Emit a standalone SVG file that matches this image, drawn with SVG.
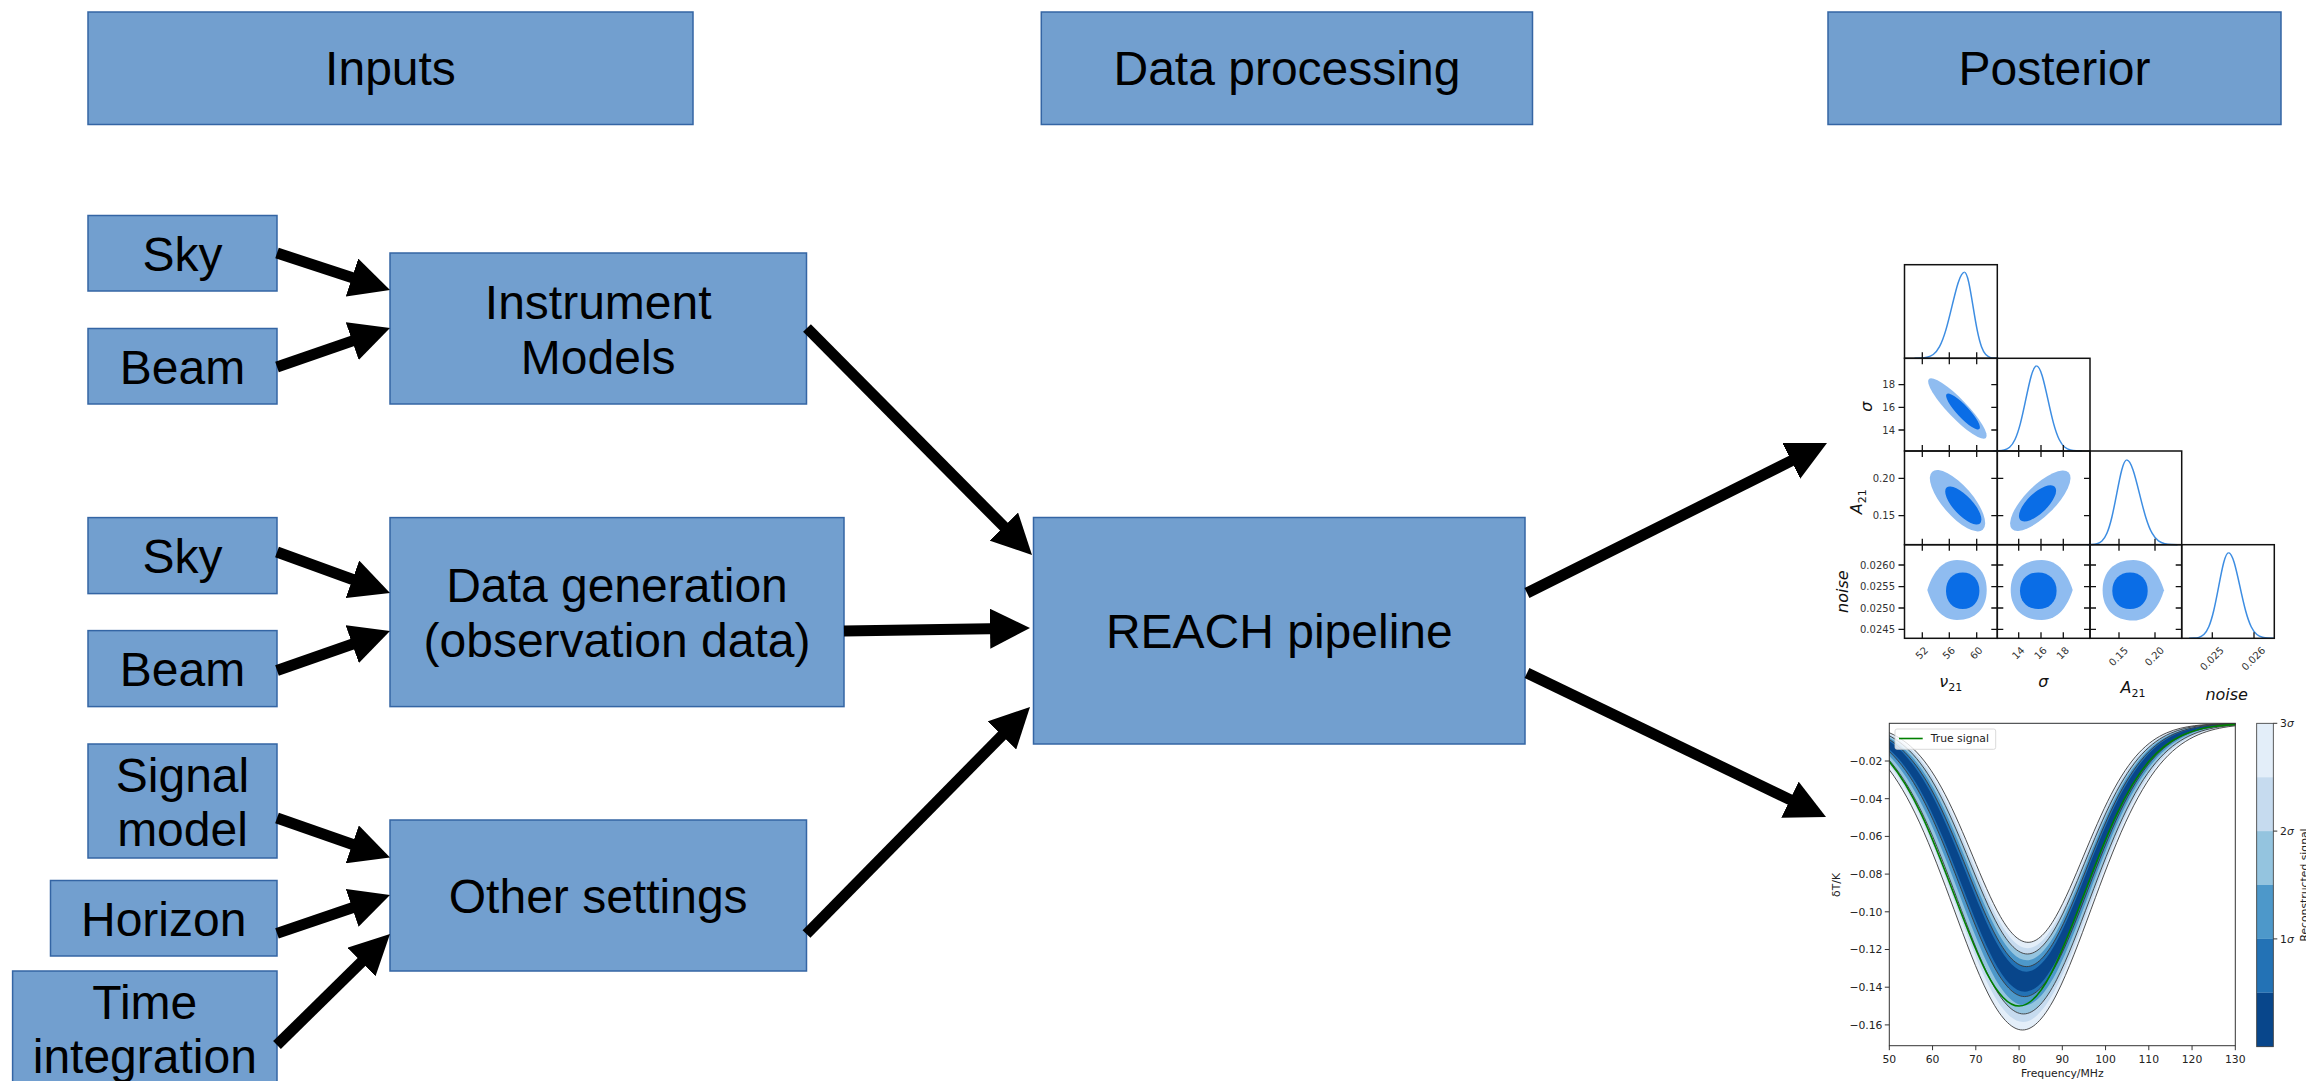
<svg xmlns="http://www.w3.org/2000/svg" width="2306" height="1081" viewBox="0 0 2306 1081">
<style>
.box{fill:#729fcf;stroke:#3465a4;stroke-width:1.5}
.lbl{font-family:"Liberation Sans",Arial,sans-serif;font-size:48px;fill:#000;text-anchor:middle}
.conn line{stroke:#000;stroke-width:11;marker-end:url(#ah)}
.pt{font-family:"DejaVu Sans",sans-serif;font-size:10.8px;fill:#222}
.ct{font-family:"DejaVu Sans",sans-serif;font-size:10px;fill:#333}
.ax{font-family:"DejaVu Sans",sans-serif;font-size:16px;fill:#111;text-anchor:middle}
.frame{fill:none;stroke:#111;stroke-width:1.5}
.tk{fill:none;stroke:#111;stroke-width:1.3}
.c1d{fill:none;stroke:#3d8de2;stroke-width:1.5}
.oc{fill:#8fbcf0}
.ic{fill:#0a6de6}
.cl{fill:none;stroke:#3a3a3a;stroke-width:0.9}
</style>
<defs>
<marker id="ah" markerUnits="userSpaceOnUse" markerWidth="40" markerHeight="40" viewBox="0 0 40 40" refX="15" refY="20" orient="auto"><path d="M0,0 L40,20 L0,40 Z" fill="#000"/></marker>
<path id="gF" d="M-700,0 L-400,0.34 C-383.333,0.56 -366.667,0.91 -350,2.19 C-333.333,3.47 -316.667,5.55 -300,11.11 C-283.333,16.67 -266.667,25.63 -250,43.94 C-233.333,62.25 -216.667,90.23 -200,135.34 C-183.333,180.45 -166.667,243.49 -150,324.65 C-133.333,405.81 -116.667,505.44 -100,606.53 C-83.333,707.62 -66.667,808.96 -50,882.5 C-33.333,956.04 -16.667,1000 0,1000 C16.667,1000 33.333,956.04 50,882.5 C66.667,808.96 83.333,707.62 100,606.53 C116.667,505.44 133.333,405.81 150,324.65 C166.667,243.49 183.333,180.45 200,135.34 C216.667,90.23 233.333,62.25 250,43.94 C266.667,25.63 283.333,16.67 300,11.11 C316.667,5.55 333.333,3.47 350,2.19 C366.667,0.91 383.333,0.56 400,0.34 L700,0 Z"/>
<path id="gS" vector-effect="non-scaling-stroke" d="M-700,0 L-400,0.34 C-383.333,0.56 -366.667,0.91 -350,2.19 C-333.333,3.47 -316.667,5.55 -300,11.11 C-283.333,16.67 -266.667,25.63 -250,43.94 C-233.333,62.25 -216.667,90.23 -200,135.34 C-183.333,180.45 -166.667,243.49 -150,324.65 C-133.333,405.81 -116.667,505.44 -100,606.53 C-83.333,707.62 -66.667,808.96 -50,882.5 C-33.333,956.04 -16.667,1000 0,1000 C16.667,1000 33.333,956.04 50,882.5 C66.667,808.96 83.333,707.62 100,606.53 C116.667,505.44 133.333,405.81 150,324.65 C166.667,243.49 183.333,180.45 200,135.34 C216.667,90.23 233.333,62.25 250,43.94 C266.667,25.63 283.333,16.67 300,11.11 C316.667,5.55 333.333,3.47 350,2.19 C366.667,0.91 383.333,0.56 400,0.34 L700,0"/>
<path id="hl" vector-effect="non-scaling-stroke" d="M-400,0.34 C-383.333,0.56 -366.667,0.91 -350,2.19 C-333.333,3.47 -316.667,5.55 -300,11.11 C-283.333,16.67 -266.667,25.63 -250,43.94 C-233.333,62.25 -216.667,90.23 -200,135.34 C-183.333,180.45 -166.667,243.49 -150,324.65 C-133.333,405.81 -116.667,505.44 -100,606.53 C-83.333,707.62 -66.667,808.96 -50,882.5 C-33.333,956.04 -16.667,1000 0,1000"/>
<path id="hr" vector-effect="non-scaling-stroke" d="M0,1000 C16.667,1000 33.333,956.04 50,882.5 C66.667,808.96 83.333,707.62 100,606.53 C116.667,505.44 133.333,405.81 150,324.65 C166.667,243.49 183.333,180.45 200,135.34 C216.667,90.23 233.333,62.25 250,43.94 C266.667,25.63 283.333,16.67 300,11.11 C316.667,5.55 333.333,3.47 350,2.19 C366.667,0.91 383.333,0.56 400,0.34"/>
<path id="blob" d="M-100,0 C-100,-60 -60,-100 0,-100 C60,-100 100,-60 100,0 C100,60 60,100 0,100 C-60,100 -100,60 -100,0 Z"/>
<path id="blobL" d="M-100,0 C-85,-50 -55,-100 0,-100 C62,-100 100,-62 100,0 C100,62 62,100 0,100 C-55,100 -85,50 -100,0 Z"/>
<clipPath id="cs"><rect x="1889.3" y="723.3" width="346" height="322.4"/></clipPath>
</defs>

<rect x="0" y="0" width="2306" height="1081" fill="#fff"/>

<g id="inputs"><rect class="box" x="88" y="12" width="605" height="112.5"/><text class="lbl" x="390.5" y="85">Inputs</text></g>
<g id="data-processing"><rect class="box" x="1041.3" y="12" width="491.2" height="112.5"/><text class="lbl" x="1286.9" y="85">Data processing</text></g>
<g id="posterior"><rect class="box" x="1828" y="12" width="453" height="112.5"/><text class="lbl" x="2054.5" y="85">Posterior</text></g>
<g id="sky-1"><rect class="box" x="88" y="215.5" width="189" height="75.5"/><text class="lbl" x="182.5" y="270.5">Sky</text></g>
<g id="beam-1"><rect class="box" x="88" y="328.5" width="189" height="75.5"/><text class="lbl" x="182.5" y="383.5">Beam</text></g>
<g id="instrument-models"><rect class="box" x="390" y="253" width="416.5" height="151"/><text class="lbl" x="598.2" y="318.5">Instrument</text><text class="lbl" x="598.2" y="373.5">Models</text></g>
<g id="sky-2"><rect class="box" x="88" y="517.6" width="189" height="76"/><text class="lbl" x="182.5" y="573">Sky</text></g>
<g id="beam-2"><rect class="box" x="88" y="630.6" width="189" height="76"/><text class="lbl" x="182.5" y="686">Beam</text></g>
<g id="data-generation"><rect class="box" x="390" y="517.6" width="454" height="189"/><text class="lbl" x="617" y="602">Data generation</text><text class="lbl" x="617" y="657">(observation data)</text></g>
<g id="signal-model"><rect class="box" x="88" y="744" width="189" height="114"/><text class="lbl" x="182.5" y="792">Signal</text><text class="lbl" x="182.5" y="845.5">model</text></g>
<g id="horizon"><rect class="box" x="50.5" y="880.5" width="226.5" height="75.5"/><text class="lbl" x="163.7" y="935.5">Horizon</text></g>
<g id="time-integration"><rect class="box" x="12.6" y="971" width="264.4" height="125"/><text class="lbl" x="144.8" y="1018.5">Time</text><text class="lbl" x="144.8" y="1073">integration</text></g>
<g id="other-settings"><rect class="box" x="390" y="820" width="416.5" height="151"/><text class="lbl" x="598.2" y="912.5">Other settings</text></g>
<g id="reach-pipeline"><rect class="box" x="1033.5" y="517.5" width="491.5" height="226.5"/><text class="lbl" x="1279.3" y="648">REACH pipeline</text></g>

<g id="connectors" class="conn">
<line x1="277" y1="253" x2="366.24" y2="282.22"/>
<line x1="277" y1="367" x2="366.37" y2="336.16"/>
<line x1="807" y1="328" x2="1014.4" y2="537.24"/>
<line x1="277" y1="552" x2="366.5" y2="584.47"/>
<line x1="277" y1="670.5" x2="366.4" y2="639.25"/>
<line x1="844" y1="631" x2="1005" y2="628.4"/>
<line x1="277" y1="818" x2="366.4" y2="849.25"/>
<line x1="277" y1="933.4" x2="366.33" y2="903.04"/>
<line x1="277" y1="1045" x2="372.17" y2="951.52"/>
<line x1="806.5" y1="934" x2="1012.46" y2="724.81"/>
<line x1="1527" y1="593" x2="1804.64" y2="454.18"/>
<line x1="1527" y1="673" x2="1803.48" y2="806.15"/>
</g>

<g id="corner-plot">
<ellipse class="oc" cx="1957.4" cy="408.5" rx="41" ry="9.5" transform="rotate(46 1957.4 408.5)"/>
<ellipse class="ic" cx="1963" cy="411.5" rx="24" ry="6" transform="rotate(47 1963 411.5)"/>
<ellipse class="oc" cx="1957.5" cy="500.7" rx="38.5" ry="15" transform="rotate(49 1957.5 500.7)"/>
<ellipse class="ic" cx="1963.3" cy="505.5" rx="24.5" ry="9.5" transform="rotate(47 1963.3 505.5)"/>
<ellipse class="oc" cx="2040.3" cy="500.7" rx="40" ry="15" transform="rotate(-45 2040.3 500.7)"/>
<ellipse class="ic" cx="2037.5" cy="503.3" rx="24" ry="10" transform="rotate(-44 2037.5 503.3)"/>
<use href="#blobL" class="oc" transform="translate(1957,590) scale(0.297,0.3)"/>
<use href="#blob" class="ic" transform="translate(1962.7,590.7) scale(0.167,0.183)"/>
<use href="#blobL" class="oc" transform="translate(2041.7,590) scale(-0.31,0.3)"/>
<use href="#blob" class="ic" transform="translate(2038.3,590.7) scale(0.183,0.183)"/>
<use href="#blobL" class="oc" transform="translate(2133.3,590.3) scale(-0.307,0.303)"/>
<use href="#blob" class="ic" transform="translate(2130,590.7) scale(0.177,0.183)"/>
<use href="#hl" class="c1d" transform="translate(1964.5,358.3) scale(0.125,-0.086)"/>
<use href="#hr" class="c1d" transform="translate(1964.5,358.3) scale(0.085,-0.086)"/>
<use href="#hl" class="c1d" transform="translate(2036.6,451) scale(0.108,-0.085)"/>
<use href="#hr" class="c1d" transform="translate(2036.6,451) scale(0.113,-0.085)"/>
<use href="#hl" class="c1d" transform="translate(2126.7,544.7) scale(0.099,-0.0847)"/>
<use href="#hr" class="c1d" transform="translate(2126.7,544.7) scale(0.127,-0.0847)"/>
<use href="#hl" class="c1d" transform="translate(2228.6,638.3) scale(0.099,-0.0856)"/>
<use href="#hr" class="c1d" transform="translate(2228.6,638.3) scale(0.113,-0.0856)"/>
<rect class="frame" x="1904.5" y="264.7" width="92.8" height="93.6"/>
<rect class="frame" x="1904.5" y="358.3" width="92.8" height="92.7"/>
<rect class="frame" x="1997.3" y="358.3" width="92.7" height="92.7"/>
<rect class="frame" x="1904.5" y="451" width="92.8" height="93.7"/>
<rect class="frame" x="1997.3" y="451" width="92.7" height="93.7"/>
<rect class="frame" x="2090" y="451" width="91.7" height="93.7"/>
<rect class="frame" x="1904.5" y="544.7" width="92.8" height="93.6"/>
<rect class="frame" x="1997.3" y="544.7" width="92.7" height="93.6"/>
<rect class="frame" x="2090" y="544.7" width="91.7" height="93.6"/>
<rect class="frame" x="2181.7" y="544.7" width="92.6" height="93.6"/>
<path class="tk" d="M1922.3 352.3v12M1949.3 352.3v12M1976.7 352.3v12M1922.3 445v12M1949.3 445v12M1976.7 445v12M1922.3 538.7v12M1949.3 538.7v12M1976.7 538.7v12M1922.3 632.3v6M1949.3 632.3v6M1976.7 632.3v6
M2018.7 445v12M2041 445v12M2063.3 445v12M2018.7 538.7v12M2041 538.7v12M2063.3 538.7v12M2018.7 632.3v6M2041 632.3v6M2063.3 632.3v6
M2119 538.7v12M2155 538.7v12M2119 632.3v6M2155 632.3v6M2212.3 632.3v6M2254 632.3v6
M1898.5 384.7h6M1898.5 407.3h6M1898.5 430h6M1991.3 384.7h6M1991.3 407.3h6M1991.3 430h6
M1898.5 478.3h6M1898.5 515.7h6M1991.3 478.3h12M1991.3 515.7h12M2084 478.3h6M2084 515.7h6
M1898.5 565h6M1898.5 586.7h6M1898.5 608h6M1898.5 629.3h6M1991.3 565h12M1991.3 586.7h12M1991.3 608h12M1991.3 629.3h12M2084 565h12M2084 586.7h12M2084 608h12M2084 629.3h12M2175.7 565h6M2175.7 586.7h6M2175.7 608h6M2175.7 629.3h6"/>
<g class="ct" text-anchor="end">
<text x="1895" y="388.3">18</text><text x="1895" y="410.9">16</text><text x="1895" y="433.6">14</text>
<text x="1895" y="481.9">0.20</text><text x="1895" y="519.3">0.15</text>
<text x="1895" y="568.6">0.0260</text><text x="1895" y="590.3">0.0255</text><text x="1895" y="611.6">0.0250</text><text x="1895" y="632.9">0.0245</text>
</g>
<g class="ct" text-anchor="middle" dominant-baseline="central">
<text transform="translate(1921.7,653) rotate(-45)">52</text>
<text transform="translate(1948.8,653) rotate(-45)">56</text>
<text transform="translate(1976.2,653) rotate(-45)">60</text>
<text transform="translate(2018.2,653) rotate(-45)">14</text>
<text transform="translate(2040.5,653) rotate(-45)">16</text>
<text transform="translate(2062.8,653) rotate(-45)">18</text>
<text transform="translate(2118.5,656.4) rotate(-45)">0.15</text>
<text transform="translate(2154.5,656.4) rotate(-45)">0.20</text>
<text transform="translate(2211.8,658.6) rotate(-45)">0.025</text>
<text transform="translate(2253.5,658.6) rotate(-45)">0.026</text>
</g>
<text class="ax" x="1950.8" y="687"><tspan font-style="italic">ν</tspan><tspan font-size="11" dy="4">21</tspan></text>
<text class="ax" x="2043.3" y="686.5" font-style="italic">σ</text>
<text class="ax" x="2133" y="693.3"><tspan font-style="italic">A</tspan><tspan font-size="11" dy="4">21</tspan></text>
<text class="ax" x="2226.7" y="700" font-style="italic">noise</text>
<text class="ax" transform="translate(1872,406.7) rotate(-90)" font-style="italic">σ</text>
<text class="ax" transform="translate(1862,501.7) rotate(-90)"><tspan font-style="italic">A</tspan><tspan font-size="11" dy="4">21</tspan></text>
<text class="ax" transform="translate(1848,591.7) rotate(-90)" font-style="italic">noise</text>
</g>

<g id="signal-plot">
<g clip-path="url(#cs)">
<use href="#gF" fill="#e3eef9" transform="translate(2022.51,723.3) scale(0.6855,0.30669)"/>
<use href="#gF" fill="#c6dbef" transform="translate(2023.03,723.3) scale(0.6734,0.29862)"/>
<use href="#gF" fill="#94c4df" transform="translate(2023.54,723.3) scale(0.6614,0.29065)"/>
<use href="#gF" fill="#4d98ca" transform="translate(2024.10,723.3) scale(0.6483,0.28198)"/>
<use href="#gF" fill="#2372b5" transform="translate(2024.65,723.3) scale(0.6353,0.27329)"/>
<use href="#gF" fill="#08468b" transform="translate(2024.97,723.3) scale(0.6279,0.26839)"/>
<use href="#gF" fill="#2372b5" transform="translate(2026.25,723.3) scale(0.5978,0.24841)"/>
<use href="#gF" fill="#4d98ca" transform="translate(2026.58,723.3) scale(0.5901,0.24332)"/>
<use href="#gF" fill="#94c4df" transform="translate(2026.98,723.3) scale(0.5806,0.23700)"/>
<use href="#gF" fill="#c6dbef" transform="translate(2027.38,723.3) scale(0.5712,0.23069)"/>
<use href="#gF" fill="#e3eef9" transform="translate(2027.76,723.3) scale(0.5624,0.22492)"/>
<use href="#gF" fill="#ffffff" transform="translate(2028.13,723.3) scale(0.5536,0.21904)"/>
<use href="#gS" class="cl" transform="translate(2028.13,723.3) scale(0.5536,0.21904)"/>
<use href="#gS" class="cl" transform="translate(2027.38,723.3) scale(0.5712,0.23069)"/>
<use href="#gS" class="cl" transform="translate(2026.58,723.3) scale(0.5901,0.24332)"/>
<use href="#gS" class="cl" transform="translate(2024.65,723.3) scale(0.6353,0.27329)"/>
<use href="#gS" class="cl" transform="translate(2023.54,723.3) scale(0.6614,0.29065)"/>
<use href="#gS" class="cl" transform="translate(2022.51,723.3) scale(0.6855,0.30669)"/>
<use href="#gS" fill="none" stroke="#008000" stroke-width="1.6" transform="translate(2019.05,723.3) scale(0.64875,0.28275)"/>
</g>
<rect x="1889.3" y="723.3" width="346" height="322.4" fill="none" stroke="#333" stroke-width="1"/>
<path fill="none" stroke="#333" stroke-width="1" d="M1884.8 761h4.5M1884.8 798.7h4.5M1884.8 836.4h4.5M1884.8 874.1h4.5M1884.8 911.8h4.5M1884.8 949.5h4.5M1884.8 987.2h4.5M1884.8 1024.9h4.5
M1889.3 1045.7v4.5M1932.55 1045.7v4.5M1975.8 1045.7v4.5M2019.05 1045.7v4.5M2062.3 1045.7v4.5M2105.55 1045.7v4.5M2148.8 1045.7v4.5M2192.05 1045.7v4.5M2235.3 1045.7v4.5"/>
<g class="pt" text-anchor="end">
<text x="1882.5" y="764.8">−0.02</text><text x="1882.5" y="802.5">−0.04</text><text x="1882.5" y="840.2">−0.06</text><text x="1882.5" y="877.9">−0.08</text><text x="1882.5" y="915.6">−0.10</text><text x="1882.5" y="953.3">−0.12</text><text x="1882.5" y="991">−0.14</text><text x="1882.5" y="1028.7">−0.16</text>
</g>
<g class="pt" text-anchor="middle">
<text x="1889.3" y="1063">50</text><text x="1932.55" y="1063">60</text><text x="1975.8" y="1063">70</text><text x="2019.05" y="1063">80</text><text x="2062.3" y="1063">90</text><text x="2105.55" y="1063">100</text><text x="2148.8" y="1063">110</text><text x="2192.05" y="1063">120</text><text x="2235.3" y="1063">130</text>
<text x="2062.3" y="1076.5">Frequency/MHz</text>
<text transform="translate(1840,885) rotate(-90)">δT/K</text>
</g>
<rect x="1895" y="729" width="100.7" height="20.3" rx="2" fill="#fff" fill-opacity="0.8" stroke="#d0d0d0" stroke-width="0.8"/>
<line x1="1899" y1="738.5" x2="1922.7" y2="738.5" stroke="#008000" stroke-width="1.6"/>
<text class="pt" x="1930.7" y="742.3">True signal</text>
<rect x="2256.7" y="723.3" width="16.6" height="53.9" fill="#e3eef9"/>
<rect x="2256.7" y="777.2" width="16.6" height="53.9" fill="#c6dbef"/>
<rect x="2256.7" y="831.1" width="16.6" height="53.9" fill="#94c4df"/>
<rect x="2256.7" y="885" width="16.6" height="53.9" fill="#4d98ca"/>
<rect x="2256.7" y="938.9" width="16.6" height="53.9" fill="#2372b5"/>
<rect x="2256.7" y="992.8" width="16.6" height="53.9" fill="#08468b"/>
<rect x="2256.7" y="723.3" width="16.6" height="323.4" fill="none" stroke="#333" stroke-width="0.8"/>
<path fill="none" stroke="#333" stroke-width="1" d="M2273.3 723.3h4M2273.3 831.1h4M2273.3 938.9h4"/>
<g class="pt">
<text x="2280" y="727.3">3<tspan font-style="italic">σ</tspan></text>
<text x="2280" y="835.1">2<tspan font-style="italic">σ</tspan></text>
<text x="2280" y="942.9">1<tspan font-style="italic">σ</tspan></text>
<text transform="translate(2307.5,885) rotate(-90)" text-anchor="middle">Reconstructed signal</text>
</g>
</g>
</svg>
